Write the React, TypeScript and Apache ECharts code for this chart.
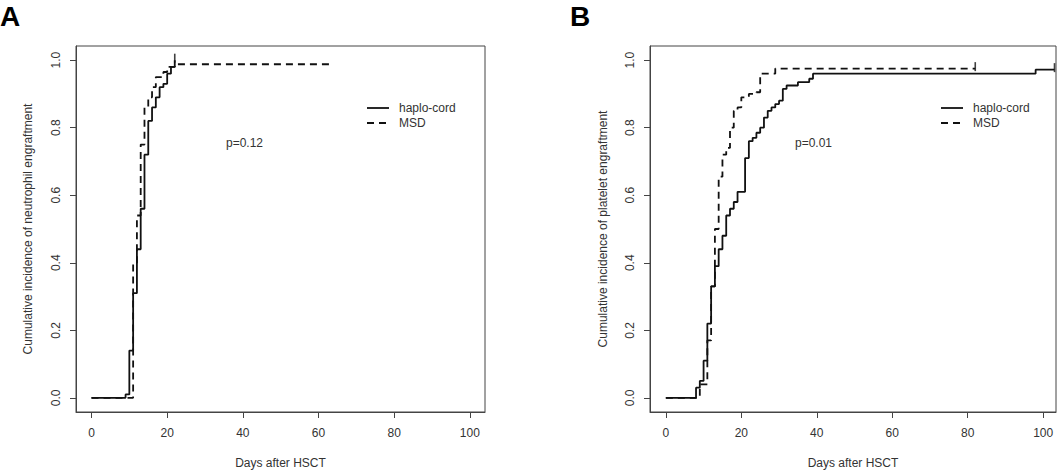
import React, { useEffect, useRef } from "react";
import * as echarts from "echarts";

// ---------- data ----------
const xTicks = [0, 20, 40, 60, 80, 100];
const yTicks = [0, 0.2, 0.4, 0.6, 0.8, 1.0];
const seriesNames = ["haplo-cord", "MSD"];
const xTitle = "Days after HSCT";
const yTitles = [
  "Cumulative incidence of neutrophil engraftment",
  "Cumulative incidence of platelet engraftment",
];
const pLabels = ["p=0.12", "p=0.01"];
const panelLetters = ["A", "B"];

// Panel A: neutrophil engraftment
const neutHaploDays = [0, 9, 10, 11, 12, 13, 14, 15, 16, 17, 18, 19, 20, 21, 22];
const neutHaploCI = [0, 0.01, 0.14, 0.31, 0.44, 0.56, 0.72, 0.82, 0.86, 0.89, 0.92, 0.93, 0.96, 0.98, 1.0];
const neutMsdDays = [0, 11, 12, 13, 14, 15, 16, 17, 19, 20, 22, 63];
const neutMsdCI = [0, 0.4, 0.54, 0.75, 0.86, 0.89, 0.92, 0.95, 0.965, 0.98, 0.988, 0.988];
const neutHaploCensor = [[22, 1.0]];
const neutMsdCensor: number[][] = [];

// Panel B: platelet engraftment
const pltHaploDays = [0, 8, 9, 10, 11, 12, 13, 14, 15, 16, 17, 18, 19, 21, 22, 23, 24, 25, 26, 27, 28, 29, 30, 31, 32, 35, 38, 39, 98, 103];
const pltHaploCI = [0, 0.03, 0.05, 0.11, 0.22, 0.33, 0.39, 0.44, 0.48, 0.54, 0.56, 0.58, 0.61, 0.71, 0.76, 0.77, 0.785, 0.8, 0.83, 0.85, 0.86, 0.87, 0.88, 0.915, 0.925, 0.935, 0.945, 0.96, 0.972, 0.972];
const pltMsdDays = [0, 9, 11, 12, 13, 14, 15, 16, 17, 18, 19, 20, 22, 24, 25, 29, 82];
const pltMsdCI = [0, 0.04, 0.17, 0.33, 0.5, 0.655, 0.72, 0.74, 0.8, 0.85, 0.86, 0.89, 0.9, 0.905, 0.96, 0.975, 0.975];
const pltHaploCensor = [[103, 0.972]];
const pltMsdCensor = [[82, 0.975]];

const zip = (xs: number[], ys: number[]) => xs.map((x, i) => [x, ys[i]]);

const FONT = "'Liberation Sans', Arial, sans-serif";
const TXT = "#333";
const AX = "#444";
const LINE = "#111";

export default function App() {
  const ref = useRef<HTMLDivElement>(null);

  useEffect(() => {
    if (!ref.current) return;
    const chart = echarts.init(ref.current, undefined, { renderer: "svg" });

    const grids = [
      { left: 76, top: 46, width: 409, height: 366 },
      { left: 650, top: 46, width: 406, height: 366 },
    ];
    const xRanges = [
      [-4.1, 104],
      [-4.2, 103.4],
    ];

    const xAxes = grids.map((_, i) => ({
      type: "value",
      gridIndex: i,
      min: xRanges[i][0],
      max: xRanges[i][1],
      name: xTitle,
      nameLocation: "middle",
      nameGap: 45,
      nameTextStyle: { color: TXT, fontSize: 12, fontFamily: FONT },
      axisLine: { show: true, onZero: false, lineStyle: { color: AX, width: 1 } },
      axisTick: { show: true, inside: false, length: 6, customValues: xTicks, lineStyle: { color: AX } },
      axisLabel: {
        show: true,
        customValues: xTicks,
        margin: 15,
        color: TXT,
        fontSize: 12,
        fontFamily: FONT,
        formatter: (v: number) => String(Math.round(v)),
      },
      splitLine: { show: false },
    }));

    const yAxes = grids.map((_, i) => ({
      type: "value",
      gridIndex: i,
      min: -0.042,
      max: 1.042,
      name: yTitles[i],
      nameLocation: "middle",
      nameGap: i === 0 ? 42 : 41,
      nameTextStyle: { color: TXT, fontSize: 12, fontFamily: FONT },
      axisLine: { show: true, onZero: false, lineStyle: { color: AX, width: 1 } },
      axisTick: { show: true, inside: false, length: 6, customValues: yTicks, lineStyle: { color: AX } },
      axisLabel: {
        show: true,
        customValues: yTicks,
        rotate: 90,
        margin: 14,
        color: TXT,
        fontSize: 12,
        fontFamily: FONT,
        formatter: (v: number) => v.toFixed(1),
      },
      splitLine: { show: false },
    }));

    const lineSeries = (name: string, data: number[][], idx: number, dashed: boolean) => ({
      type: "line",
      name,
      xAxisIndex: idx,
      yAxisIndex: idx,
      data,
      step: "end",
      showSymbol: false,
      symbol: "none",
      lineStyle: { color: LINE, width: 1.8, type: dashed ? [7, 5] : "solid" },
      z: dashed ? 3 : 4,
    });
    const censorSeries = (data: number[][], idx: number) => ({
      type: "scatter",
      xAxisIndex: idx,
      yAxisIndex: idx,
      data,
      symbol: "rect",
      symbolSize: [1.6, 9],
      symbolOffset: [0, -2],
      itemStyle: { color: LINE },
      z: 5,
    });

    const legendX = [367, 941];
    const legendY = [108, 123];
    const pPos = [
      [226, 143],
      [795, 143],
    ];
    const letterX = [0, 570];

    const graphics: any[] = [];
    for (let i = 0; i < 2; i++) {
      graphics.push({
        type: "line",
        shape: { x1: legendX[i], y1: legendY[0], x2: legendX[i] + 22, y2: legendY[0] },
        style: { stroke: LINE, lineWidth: 1.8 },
      });
      graphics.push({
        type: "line",
        shape: { x1: legendX[i], y1: legendY[1], x2: legendX[i] + 22, y2: legendY[1] },
        style: { stroke: LINE, lineWidth: 1.8, lineDash: [7, 5] },
      });
      seriesNames.forEach((n, k) => {
        graphics.push({
          type: "text",
          x: legendX[i] + 32,
          y: legendY[k],
          style: { text: n, fill: TXT, font: `12px ${FONT}`, verticalAlign: "middle" },
        });
      });
      graphics.push({
        type: "text",
        x: pPos[i][0],
        y: pPos[i][1],
        style: { text: pLabels[i], fill: TXT, font: `12px ${FONT}`, verticalAlign: "middle" },
      });
      graphics.push({
        type: "text",
        x: letterX[i],
        y: 2,
        style: { text: panelLetters[i], fill: "#000", font: `bold 28px ${FONT}`, verticalAlign: "top" },
      });
    }

    chart.setOption({
      animation: false,
      backgroundColor: "#fff",
      grid: grids.map((g) => ({
        ...g,
        show: true,
        borderColor: AX,
        borderWidth: 1,
        backgroundColor: "transparent",
        containLabel: false,
        outerBoundsMode: "none",
      })),
      xAxis: xAxes,
      yAxis: yAxes,
      series: [
        lineSeries(seriesNames[0], zip(neutHaploDays, neutHaploCI), 0, false),
        lineSeries(seriesNames[1], zip(neutMsdDays, neutMsdCI), 0, true),
        lineSeries(seriesNames[0], zip(pltHaploDays, pltHaploCI), 1, false),
        lineSeries(seriesNames[1], zip(pltMsdDays, pltMsdCI), 1, true),
        censorSeries(neutHaploCensor, 0),
        censorSeries(neutMsdCensor, 0),
        censorSeries(pltHaploCensor, 1),
        censorSeries(pltMsdCensor, 1),
      ],
      graphic: graphics,
    });

    return () => chart.dispose();
  }, []);

  return (
    <div
      ref={ref}
      style={{ position: "fixed", left: 0, top: 0, width: 1061, height: 470, background: "#fff" }}
    />
  );
}
